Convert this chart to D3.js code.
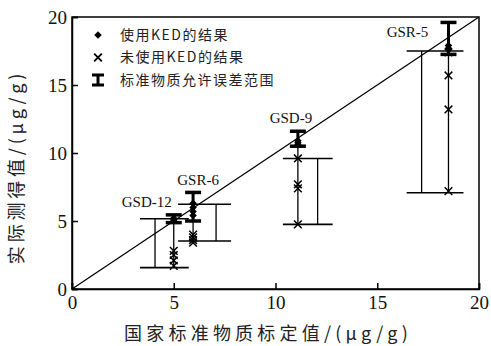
<!DOCTYPE html>
<html>
<head>
<meta charset="utf-8">
<script src="https://cdn.jsdelivr.net/npm/d3@7"></script>
<style>
  body { margin: 0; background: #fff; }
  svg { display: block; }
</style>
</head>
<body>
<div id="chart"></div>
<script>
// reference materials
const samples = ["GSD-12", "GSR-6", "GSD-9", "GSR-5"];
const certified = [5.0, 5.95, 11.1, 18.5];
// allowed error range of the standard (thick bars)
const allowedLo = [4.88, 5.0, 10.5, 17.25];
const allowedHi = [5.45, 7.1, 11.6, 19.6];
// results with KED (diamonds)
const withKED = [
    [5.2, 5.1, 5.0],
    [6.3, 6.0, 5.7, 5.4],
    [10.9, 10.75, 10.6],
    [17.9, 17.7]
];
// results without KED (crosses)
const withoutKED = [
    [2.8, 2.5, 2.1, 1.7],
    [4.0, 3.8, 3.6, 3.4],
    [9.6, 7.7, 7.4, 4.75],
    [17.4, 15.7, 13.2, 7.2]
];
// spread of the results without KED (thin bars)
const spreadAt = [4.08, 7.08, 12.07, 17.18];
const spreadLo = [1.57, 3.53, 4.75, 7.08];
const spreadHi = [5.17, 6.23, 9.6, 17.5];
const ticks = [0, 5, 10, 15, 20];
const legendLabels = ["使用KED的结果", "未使用KED的结果", "标准物质允许误差范围"];

const W = 491, H = 346;
const m = {left: 72, right: 479, top: 17, bottom: 289};
const cjk = "'Noto Sans CJK SC', sans-serif";
const serif = "'Liberation Serif', 'DejaVu Serif', serif";

const svg = d3.select("#chart")
  .append("svg")
    .attr("width", W)
    .attr("height", H)
    .attr("viewBox", `0 0 ${W} ${H}`);

const x = d3.scaleLinear().domain([0, 20]).range([m.left, m.right]);
const y = d3.scaleLinear().domain([0, 20]).range([m.bottom, m.top]);

// frame
svg.append("rect")
    .attr("x", m.left).attr("y", m.top)
    .attr("width", m.right - m.left).attr("height", m.bottom - m.top)
    .attr("fill", "none").attr("stroke", "#000").attr("stroke-width", 1.5);

// axes, ticks pointing inward
const xAxis = svg.append("g")
    .attr("transform", `translate(0, ${m.bottom})`)
    .call(d3.axisBottom(x).tickValues(ticks).tickSize(-6).tickPadding(5));
const yAxis = svg.append("g")
    .attr("transform", `translate(${m.left}, 0)`)
    .call(d3.axisLeft(y).tickValues(ticks).tickSize(-6).tickPadding(5));
[xAxis, yAxis].forEach(g => {
    g.select(".domain").attr("stroke", "#000").attr("stroke-width", 1.5);
    g.selectAll(".tick line").attr("stroke", "#000").attr("stroke-width", 1.5);
    g.selectAll(".tick text")
        .attr("font-family", serif).attr("font-size", 19).attr("fill", "#111");
});
xAxis.selectAll(".tick text").attr("dy", "0.78em");

// 1:1 line
svg.append("line")
    .attr("x1", x(0)).attr("y1", y(0))
    .attr("x2", x(20)).attr("y2", y(20))
    .attr("stroke", "#000").attr("stroke-width", 1.3);

// axis titles
svg.append("text")
    .attr("x", 268).attr("y", 340)
    .attr("text-anchor", "middle")
    .attr("font-family", cjk).attr("font-size", 18)
    .attr("letter-spacing", 4.2).attr("fill", "#222")
    .text("国家标准物质标定值/(μg/g)");
svg.append("text")
    .attr("transform", `translate(23, ${(m.top + m.bottom) / 2 + 14}) rotate(-90)`)
    .attr("text-anchor", "middle")
    .attr("font-family", cjk).attr("font-size", 18)
    .attr("letter-spacing", 3.8).attr("fill", "#222")
    .text("实际测得值/(μg/g)");

const idx = d3.range(samples.length);

// thin spread bars, caps reach over to the data column
const capPad = 15;
const spread = svg.append("g").attr("stroke", "#000").attr("stroke-width", 1.3);
idx.forEach(i => {
    const x0 = Math.min(x(spreadAt[i]), x(certified[i])) - capPad;
    const x1 = Math.max(x(spreadAt[i]), x(certified[i])) + capPad;
    spread.append("line")
        .attr("x1", x(spreadAt[i])).attr("x2", x(spreadAt[i]))
        .attr("y1", y(spreadLo[i])).attr("y2", y(spreadHi[i]));
    [spreadLo[i], spreadHi[i]].forEach(v => {
        spread.append("line")
            .attr("x1", x0).attr("x2", x1)
            .attr("y1", y(v)).attr("y2", y(v))
            .attr("stroke-width", 1.6);
    });
    // thin line through the data column
    spread.append("line")
        .attr("x1", x(certified[i])).attr("x2", x(certified[i]))
        .attr("y1", y(d3.min(withoutKED[i]))).attr("y2", y(allowedHi[i]));
});

// thick allowed-range bars
const thick = svg.append("g").attr("stroke", "#000");
idx.forEach(i => {
    const cx = x(certified[i]);
    thick.append("line")
        .attr("x1", cx).attr("x2", cx)
        .attr("y1", y(allowedLo[i])).attr("y2", y(allowedHi[i]))
        .attr("stroke-width", 3);
    [allowedLo[i], allowedHi[i]].forEach(v => {
        thick.append("line")
            .attr("x1", cx - 8).attr("x2", cx + 8)
            .attr("y1", y(v)).attr("y2", y(v))
            .attr("stroke-width", 3.5);
    });
});

// crosses
const cross = d3.symbol().type(d3.symbolX).size(40);
idx.forEach(i => {
    svg.append("g").selectAll("path")
        .data(withoutKED[i])
        .join("path")
        .attr("d", cross)
        .attr("transform", d => `translate(${x(certified[i])}, ${y(d)})`)
        .attr("fill", "none").attr("stroke", "#000").attr("stroke-width", 1.5);
});

// diamonds
const diamond = d3.symbol().type(d3.symbolDiamond2).size(36);
idx.forEach(i => {
    svg.append("g").selectAll("path")
        .data(withKED[i])
        .join("path")
        .attr("d", diamond)
        .attr("transform", d => `translate(${x(certified[i])}, ${y(d)})`)
        .attr("fill", "#000");
});

// sample labels
const labelDx = [-27, 5, -7, -41], labelDy = [-13, -13, -13, 9];
idx.forEach(i => {
    svg.append("text")
        .attr("x", x(certified[i]) + labelDx[i])
        .attr("y", y(allowedHi[i]) + labelDy[i])
        .attr("dy", "0.35em")
        .attr("text-anchor", "middle")
        .attr("font-family", serif).attr("font-size", 15).attr("fill", "#111")
        .text(samples[i]);
});

// legend
const legend = svg.append("g").attr("transform", "translate(98, 35)");
const rowH = 22.5;
legend.append("path")
    .attr("d", d3.symbol().type(d3.symbolDiamond2).size(36))
    .attr("fill", "#000");
legend.append("path")
    .attr("d", cross)
    .attr("transform", `translate(0, ${rowH})`)
    .attr("fill", "none").attr("stroke", "#000").attr("stroke-width", 1.8);
const ib = legend.append("g").attr("transform", `translate(0, ${rowH * 2})`).attr("stroke", "#000");
ib.append("line").attr("x1", 0).attr("x2", 0).attr("y1", -5).attr("y2", 5).attr("stroke-width", 3);
ib.append("line").attr("x1", -6).attr("x2", 6).attr("y1", -5).attr("y2", -5).attr("stroke-width", 3);
ib.append("line").attr("x1", -6).attr("x2", 6).attr("y1", 5).attr("y2", 5).attr("stroke-width", 3);
legend.selectAll("text.lab")
    .data(legendLabels)
    .join("text")
    .attr("class", "lab")
    .attr("x", 22)
    .attr("y", (d, i) => i * rowH)
    .attr("dy", "0.35em")
    .attr("font-family", cjk).attr("font-size", 14)
    .attr("letter-spacing", 1.5).attr("fill", "#222")
    .text(d => d);
</script>
</body>
</html>
